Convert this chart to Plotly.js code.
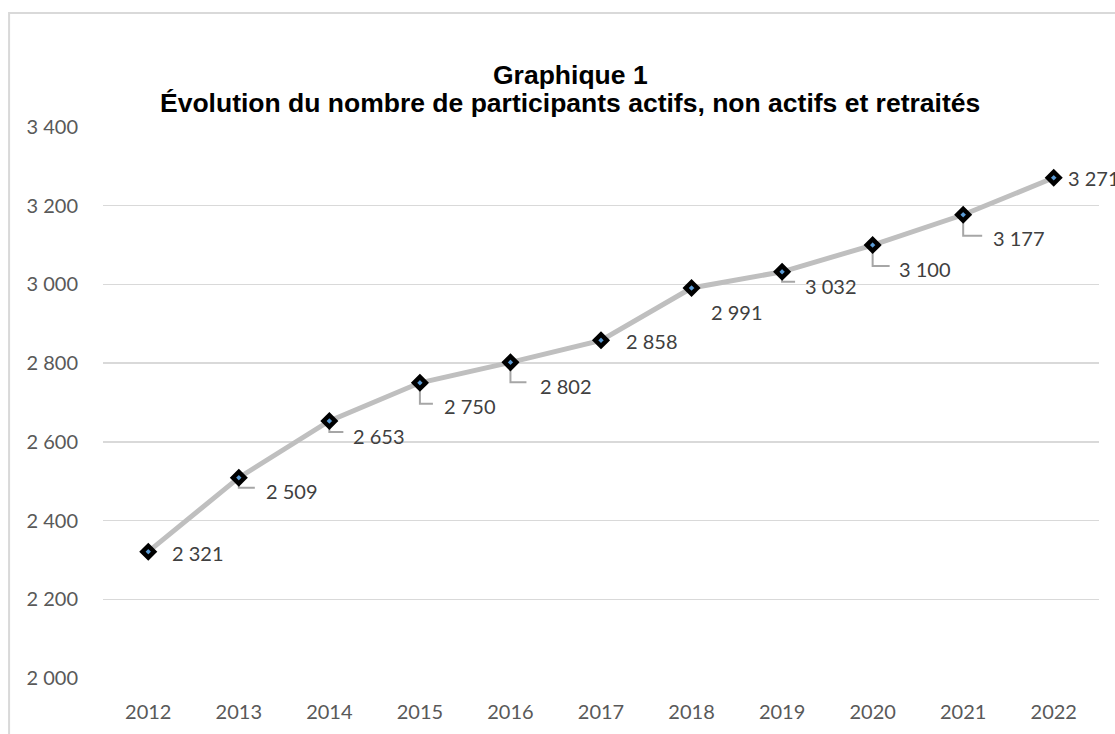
<!DOCTYPE html>
<html>
<head>
<meta charset="utf-8">
<script src="https://cdn.plot.ly/plotly-3.0.1.min.js"></script>
<style>
  html, body { margin: 0; padding: 0; background: #fff; }
  #chart { width: 1115px; height: 734px; }
</style>
</head>
<body>
<div id="chart"></div>
<script>
// ---- Data ----
const years = ['2012','2013','2014','2015','2016','2017','2018','2019','2020','2021','2022'];
const participants = [2321, 2509, 2653, 2750, 2802, 2858, 2991, 3032, 3100, 3177, 3271];
const yTickValues = [2000, 2200, 2400, 2600, 2800, 3000, 3200, 3400];
const titleLines = ['Graphique 1', 'Évolution du nombre de participants actifs, non actifs et retraités'];

// ---- Label placement (pixel offsets from each point) ----
const labelDx = [22, 25, 22, 22, 28, 23, 17, 21, 24, 28, 12];
const labelDy = [1, 13, 15, 23, 24, 1, 24, 14, 24, 23, 0];
// leader lines: [down, right] in pixels, null = no leader
const leaders = [null, [10, 16], [11, 14], [21, 13], [20, 16], null, null, [10, 13], [21, 17], [21, 19], null];
const titleY = [1.0944, 1.0436];

function fmt(v) {
  return String(v).replace(/\B(?=(\d{3})+(?!\d))/g, ' ');
}

const annotations = years.map((yr, i) => ({
  x: i, y: participants[i], xref: 'x', yref: 'y',
  text: fmt(participants[i]),
  showarrow: false,
  xanchor: 'left', yanchor: 'middle',
  xshift: labelDx[i], yshift: -labelDy[i],
  font: { family: 'Lato, sans-serif', size: 20, color: '#404040' }
}));

titleLines.forEach((t, k) => {
  annotations.push({
    xref: 'paper', yref: 'paper', x: 0.469, y: titleY[k],
    xanchor: 'center', yanchor: 'middle', showarrow: false,
    text: '<b>' + t + '</b>',
    font: { family: 'Liberation Sans, Arial, sans-serif', size: 26.5, color: '#000' }
  });
});

const shapes = [];
years.forEach((yr, i) => {
  const l = leaders[i];
  if (!l) return;
  shapes.push({
    type: 'path', xref: 'x', yref: 'y',
    xsizemode: 'pixel', ysizemode: 'pixel',
    xanchor: i, yanchor: participants[i],
    path: 'M 0 -5 L 0 ' + (-l[0]) + ' L ' + l[1] + ' ' + (-l[0]),
    line: { color: '#a6a6a6', width: 2 },
    layer: 'below'
  });
});

// outer chart frame
shapes.push({
  type: 'rect', xref: 'paper', yref: 'paper',
  x0: -0.0943, x1: 1.2, y0: -0.3, y1: 1.2069,
  line: { color: '#d9d9d9', width: 2 }, fillcolor: 'rgba(0,0,0,0)'
});

const trace = {
  x: years, y: participants,
  type: 'scatter', mode: 'lines+markers',
  line: { color: '#bfbfbf', width: 5 },
  marker: { symbol: 'diamond', size: 9, color: '#5b9bd5', line: { color: '#000', width: 4.5 } },
  hoverinfo: 'skip'
};

const layout = {
  width: 1115, height: 734,
  margin: { l: 103, r: 16, t: 127, b: 56 },
  paper_bgcolor: '#fff', plot_bgcolor: '#fff',
  separators: ', ',
  showlegend: false,
  xaxis: {
    type: 'category', range: [-0.5, 10.5],
    showgrid: false, zeroline: false, showline: false,
    ticks: 'outside', ticklen: 16, tickcolor: 'rgba(0,0,0,0)',
    tickfont: { family: 'Lato, sans-serif', size: 20, color: '#595959' },
    fixedrange: true
  },
  yaxis: {
    range: [2000, 3400], tickvals: yTickValues, tickformat: ',d',
    showgrid: true, gridcolor: '#d9d9d9', gridwidth: 1.5,
    zeroline: false, showline: false,
    ticks: 'outside', ticklen: 20, tickcolor: 'rgba(0,0,0,0)',
    tickfont: { family: 'Lato, sans-serif', size: 20, color: '#595959' },
    fixedrange: true
  },
  annotations: annotations,
  shapes: shapes
};

Plotly.newPlot('chart', [trace], layout, { displayModeBar: false, staticPlot: true });
</script>
</body>
</html>
